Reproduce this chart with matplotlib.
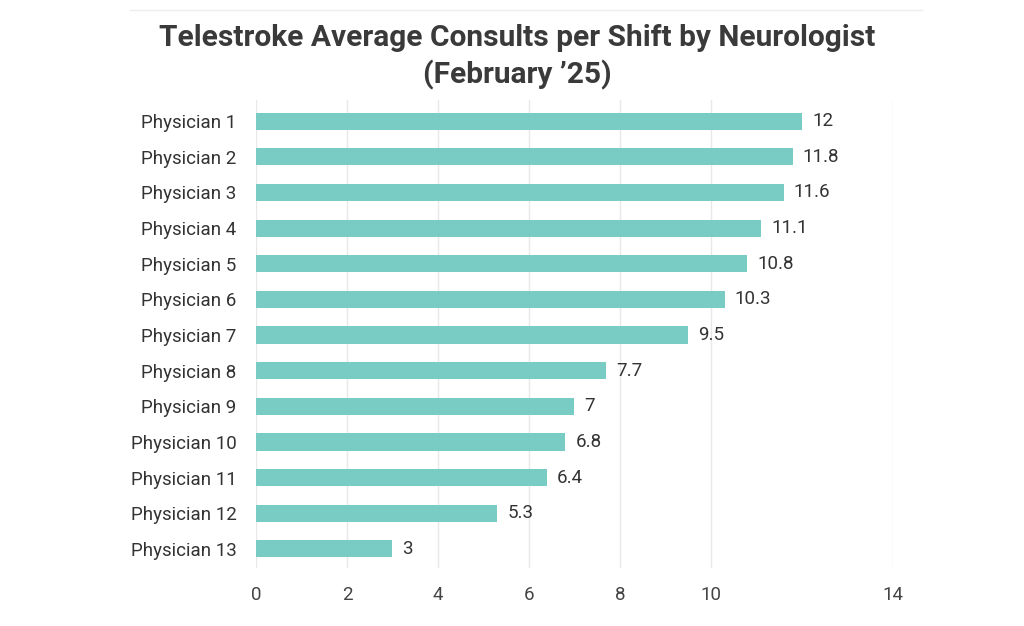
import matplotlib.pyplot as plt
from matplotlib.lines import Line2D

# dados
physicians = [f"Physician {i}" for i in range(1, 14)]
consults = [12, 11.8, 11.6, 11.1, 10.8, 10.3, 9.5, 7.7, 7, 6.8, 6.4, 5.3, 3]
x_ticks = [0, 2, 4, 6, 8, 10, 14]

plt.rcParams['font.family'] = ['Roboto', 'DejaVu Sans']

fig = plt.figure(figsize=(10.24, 6.26), dpi=100, facecolor='white')
ax = fig.add_axes([0.25, 0.093, 0.622, 0.747])

bar_color = '#78ccc3'
text_color = '#333333'

ypos = list(range(len(physicians)))
ax.barh(ypos, consults, height=0.48, color=bar_color, zorder=3)

for y, v in zip(ypos, consults):
    ax.text(v + 0.22, y, f"{v:g}", va='center', ha='left',
            fontsize=13.5, color=text_color)

ax.set_yticks(ypos)
ax.set_yticklabels(physicians, fontsize=13.5, color=text_color)
ax.set_ylim(12.53, -0.59)

ax.set_xlim(0, 14)
ax.set_xticks(x_ticks)
ax.set_xticklabels([str(t) for t in x_ticks], fontsize=13.5, color='#444444')
ax.tick_params(axis='both', length=0)
ax.tick_params(axis='y', pad=14)
ax.tick_params(axis='x', pad=13)
ax.grid(axis='x', color='#e8e8e8', linewidth=1, zorder=0)

for s in ax.spines.values():
    s.set_visible(False)

fig.text(0.505, 0.94, "Telestroke Average Consults per Shift by Neurologist",
         ha='center', va='center', fontsize=21.5, fontweight='bold', color='#3a3a3a')
fig.text(0.505, 0.88, "(February \u201925)",
         ha='center', va='center', fontsize=21.5, fontweight='bold', color='#3a3a3a')

# linha fina no topo
fig.add_artist(Line2D([0.127, 0.9], [0.984, 0.984], color='#eeeeee', linewidth=1))

fig.savefig('out.png', dpi=100, facecolor='white')
